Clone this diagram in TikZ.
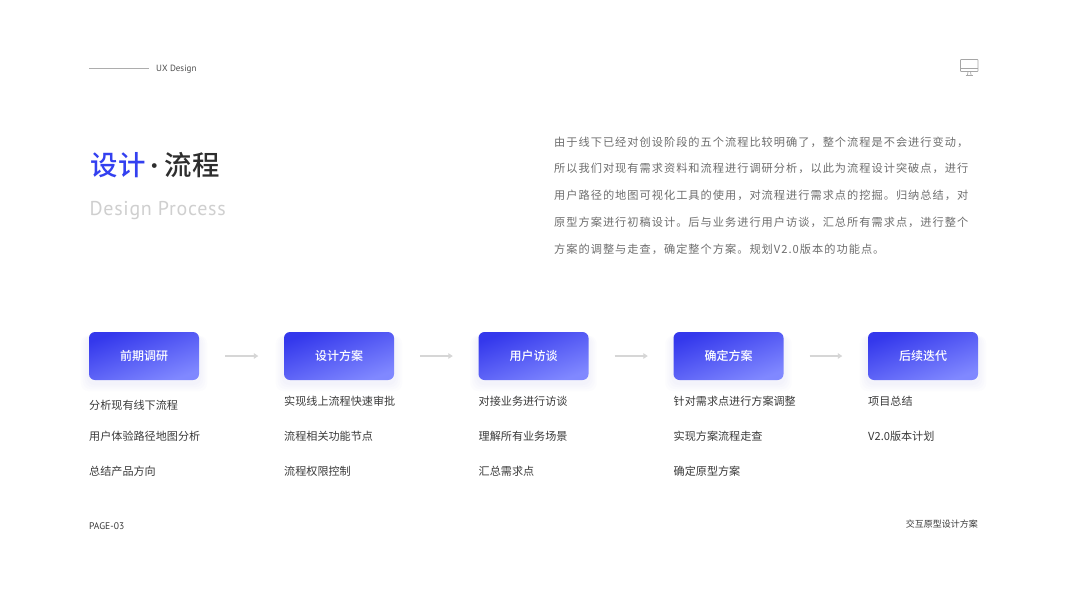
\documentclass[tikz,border=0pt]{standalone}
\usepackage{fontspec}
\usetikzlibrary{arrows.meta}
\setmainfont{Noto Sans CJK SC}
\newfontfamily\cjk{Noto Sans CJK SC}
\newfontfamily\cjkmed{Noto Sans CJK SC Medium}
\newfontfamily\cjkbody[LetterSpace=9]{Noto Sans CJK SC}
\newfontfamily\din{PT Sans}
\newfontfamily\dinwide[LetterSpace=3.5]{PT Sans}
\definecolor{ink}{HTML}{3A3A3A}
\definecolor{titleink}{HTML}{2E2E2E}
\definecolor{bodyink}{HTML}{6E6E6E}
\definecolor{blueink}{HTML}{3340F0}
\definecolor{gradA}{HTML}{3438EC}
\definecolor{gradB}{HTML}{8088FF}
\definecolor{paleink}{HTML}{CFCFCF}
\definecolor{arrowink}{HTML}{D6D6D6}
\definecolor{shadowink}{HTML}{5A64F0}
\tikzset{
  txt/.style={inner sep=0pt,anchor=west,text height=8pt,text depth=2pt},
  bodyline/.style={txt,font=\fontsize{11.2}{13}\cjkbody,text=bodyink},
  item/.style={txt,font=\fontsize{11.1}{13}\cjk,text=ink},
  stagebox/.style={minimum width=110pt,minimum height=48pt,inner sep=0pt,rounded corners=6pt,
    bottom color=gradB,top color=gradA,shading angle=20,
    font=\fontsize{12}{14}\cjkmed,text=white},
  flowarrow/.style={draw=arrowink,line width=1.8pt,-{Triangle[length=4.5pt,width=5.5pt]},shorten >=25.5pt,shorten <=26pt},
  iconline/.style={draw=black!35,line width=0.7pt}
}
\newcommand{\softshadow}[1]{%
  \foreach \g in {8,6,4,2}{
    \fill[shadowink,opacity=0.016,rounded corners=8pt]
      ([xshift=-\g pt,yshift=-4pt]#1.north west) rectangle ([xshift=\g pt,yshift=-\g pt-3pt]#1.south east);
  }}
\begin{document}
\begin{tikzpicture}[x=1pt,y=-1pt]
\useasboundingbox (0,0) rectangle (1067,600);
\fill[white] (0,0) rectangle (1067,600);

% header
\coordinate (ruleA) at (89,68);
\coordinate (ruleB) at (149,68);
\draw[draw=black!32,line width=1pt] (ruleA) -- (ruleB);
\node[txt,font=\fontsize{9}{11}\din,text=black!70] (ux) at (156,68.5) {UX Design};

% monitor icon
\draw[iconline,rounded corners=0.6pt] (960.5,59.5) rectangle (978,71.5);
\draw[iconline] (960.5,68) -- (978,68);
\draw[iconline] (968,71.5) -- (967.5,75);
\draw[iconline] (970.5,71.5) -- (971,75);
\draw[iconline] (965.5,75) -- (973,75);

% title
\node[inner sep=0pt,anchor=west,font=\fontsize{27.4}{30}\cjkmed,text=blueink] (t1) at (90.5,165.5) {设计};
\node[inner sep=0pt,font=\fontsize{17}{20}\cjk\bfseries,text=titleink] (t2) at (154.3,168) {·};
\node[inner sep=0pt,anchor=west,font=\fontsize{27.4}{30}\cjkmed,text=titleink] (t3) at (164.5,165.5) {流程};
\node[inner sep=0pt,anchor=west,font=\fontsize{20}{24}\dinwide,text=paleink] (t4) at (89.5,211) {Design Process};

% paragraph
\node[bodyline] (p1) at (554,143) {由于线下已经对创设阶段的五个流程比较明确了，整个流程是不会进行变动，};
\node[bodyline] (p2) at (554,169.5) {所以我们对现有需求资料和流程进行调研分析，以此为流程设计突破点，进行};
\node[bodyline] (p3) at (554,196) {用户路径的地图可视化工具的使用，对流程进行需求点的挖掘。归纳总结，对};
\node[bodyline] (p4) at (554,223) {原型方案进行初稿设计。后与业务进行用户访谈，汇总所有需求点，进行整个};
\node[bodyline] (p5) at (554,250) {方案的调整与走查，确定整个方案。规划V2.0版本的功能点。};

% stage boxes
\coordinate (s1) at (144,356);
\coordinate (s2) at (339,356);
\coordinate (s3) at (533.5,356);
\coordinate (s4) at (728.5,356);
\coordinate (s5) at (923,356);
\foreach \c in {s1,s2,s3,s4,s5}{
  \node[minimum width=110pt,minimum height=48pt,inner sep=0pt] (sh\c) at (\c) {};
  \softshadow{sh\c}
}
\node[stagebox] (b1) at (s1) {前期调研};
\node[stagebox] (b2) at (s2) {设计方案};
\node[stagebox] (b3) at (s3) {用户访谈};
\node[stagebox] (b4) at (s4) {确定方案};
\node[stagebox] (b5) at (s5) {后续迭代};

\draw[flowarrow] (b1) -- (b2);
\draw[flowarrow] (b2) -- (b3);
\draw[flowarrow] (b3) -- (b4);
\draw[flowarrow] (b4) -- (b5);

% lists
\node[item] (a1) at (89,406) {分析现有线下流程};
\node[item] (a2) at (89,437) {用户体验路径地图分析};
\node[item] (a3) at (89,472) {总结产品方向};
\node[item] (c1) at (284,402) {实现线上流程快速审批};
\node[item] (c2) at (284,437) {流程相关功能节点};
\node[item] (c3) at (284,472) {流程权限控制};
\node[item] (d1) at (478.5,402) {对接业务进行访谈};
\node[item] (d2) at (478.5,437) {理解所有业务场景};
\node[item] (d3) at (478.5,472) {汇总需求点};
\node[item] (e1) at (673.5,402) {针对需求点进行方案调整};
\node[item] (e2) at (673.5,437) {实现方案流程走查};
\node[item] (e3) at (673.5,472) {确定原型方案};
\node[item] (f1) at (868,402) {项目总结};
\node[item] (f2) at (868,437) {V2.0版本计划};

% footer
\node[txt,font=\fontsize{9.6}{11}\din,text=ink] (page) at (89,526) {PAGE-03};
\node[inner sep=0pt,anchor=east,font=\fontsize{9}{11}\cjk,text=ink] (foot) at (978,524) {交互原型设计方案};
\end{tikzpicture}
\end{document}
